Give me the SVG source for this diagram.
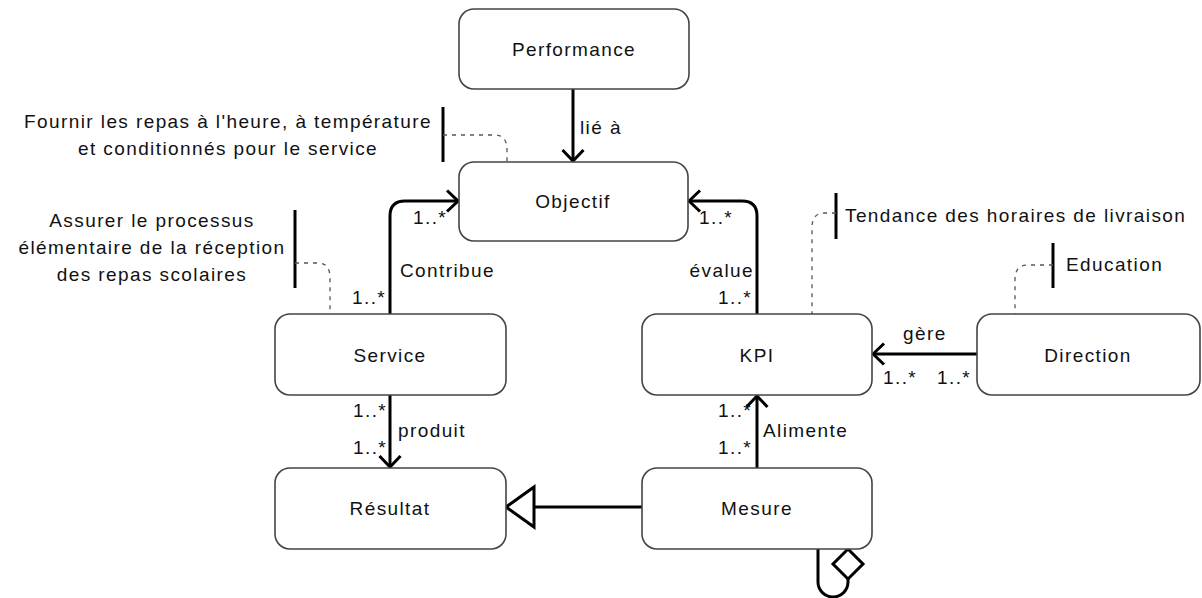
<svg xmlns="http://www.w3.org/2000/svg" width="1202" height="598" viewBox="0 0 1202 598">
<style>
.node rect{fill:#fff;stroke:#444;stroke-width:1.6}
.node text{font-family:"Liberation Sans",Arial,sans-serif;font-size:19px;letter-spacing:1.4px;fill:#111;text-anchor:middle;dominant-baseline:central}
.lbl{font-family:"Liberation Sans",Arial,sans-serif;font-size:19px;letter-spacing:1.4px;fill:#111;dominant-baseline:central}
.note{font-family:"Liberation Sans",Arial,sans-serif;font-size:19px;letter-spacing:1.4px;fill:#111;dominant-baseline:central}
.edge{fill:none;stroke:#000;stroke-width:3}
.dash{fill:none;stroke:#555;stroke-width:1.3;stroke-dasharray:4,5}
.bar{stroke:#000;stroke-width:3}
</style>
<defs>
<marker id="open" markerUnits="userSpaceOnUse" viewBox="0 0 14 24" markerWidth="14" markerHeight="24" refX="12.5" refY="12" orient="auto">
<path d="M1.5,1.5 L12.5,12 L1.5,22.5" fill="none" stroke="#000" stroke-width="3"/>
</marker>
</defs>
<g id="connectors">
<path class="edge" d="M573,89 V161" marker-end="url(#open)"/>
<path class="edge" d="M390,314 V216 Q390,201 405,201 H458" marker-end="url(#open)"/>
<path class="edge" d="M757,314 V216 Q757,201 742,201 H689" marker-end="url(#open)"/>
<path class="edge" d="M390,395 V467" marker-end="url(#open)"/>
<path class="edge" d="M757,468 V396" marker-end="url(#open)"/>
<path class="edge" d="M977,354 H873" marker-end="url(#open)"/>
<path class="edge" d="M642,507 H534"/>
<polygon class="edge" points="506,507 534,487 534,527" style="fill:#fff"/>
<path class="edge" d="M818,549 V582 A15,15 0 0 0 848,582 V579"/>
<polygon class="edge" points="848,549 863,564 848,579 833,564" style="fill:#fff"/>
<text class="lbl" x="580" y="127">lié à</text>
<text class="lbl" x="400" y="270">Contribue</text>
<text class="lbl" x="413" y="217">1..*</text>
<text class="lbl" x="352" y="297">1..*</text>
<text class="lbl" x="699" y="217">1..*</text>
<text class="lbl" x="754" y="270" text-anchor="end">évalue</text>
<text class="lbl" x="718" y="297">1..*</text>
<text class="lbl" x="353" y="410">1..*</text>
<text class="lbl" x="398" y="430">produit</text>
<text class="lbl" x="353" y="447">1..*</text>
<text class="lbl" x="718" y="410">1..*</text>
<text class="lbl" x="763" y="430">Alimente</text>
<text class="lbl" x="718" y="447">1..*</text>
<text class="lbl" x="903" y="333">gère</text>
<text class="lbl" x="883" y="377">1..*</text>
<text class="lbl" x="937" y="377">1..*</text>
</g>
<g id="notes">
<text class="note" x="228" y="121" text-anchor="middle">Fournir les repas à l'heure, à température</text>
<text class="note" x="228" y="148" text-anchor="middle">et conditionnés pour le service</text>
<line class="bar" x1="443" y1="107" x2="443" y2="162"/>
<path class="dash" d="M443,135 H495 Q507,135 507,150 V162"/>
<text class="note" x="152" y="220" text-anchor="middle">Assurer le processus</text>
<text class="note" x="152" y="247" text-anchor="middle">élémentaire de la réception</text>
<text class="note" x="152" y="274" text-anchor="middle">des repas scolaires</text>
<line class="bar" x1="295" y1="210" x2="295" y2="288"/>
<path class="dash" d="M295,263 H318 Q330,263 330,278 V314"/>
<text class="note" x="845" y="215">Tendance des horaires de livraison</text>
<line class="bar" x1="836" y1="193" x2="836" y2="239"/>
<path class="dash" d="M836,213 H824 Q812,213 812,228 V314"/>
<text class="note" x="1066" y="264">Education</text>
<line class="bar" x1="1053" y1="243" x2="1053" y2="288"/>
<path class="dash" d="M1053,265 H1027 Q1015,265 1015,280 V314"/>
</g>
<g id="performance" class="node"><rect x="459" y="9" width="230" height="80" rx="15"/><text x="574" y="49">Performance</text></g>
<g id="objectif" class="node"><rect x="459" y="162" width="229" height="79" rx="15"/><text x="573" y="201">Objectif</text></g>
<g id="service" class="node"><rect x="275" y="314" width="231" height="81" rx="15"/><text x="390" y="355">Service</text></g>
<g id="kpi" class="node"><rect x="642" y="314" width="230" height="81" rx="15"/><text x="757" y="355">KPI</text></g>
<g id="direction" class="node"><rect x="977" y="314" width="223" height="81" rx="15"/><text x="1088" y="355">Direction</text></g>
<g id="resultat" class="node"><rect x="275" y="468" width="231" height="81" rx="15"/><text x="390" y="508">Résultat</text></g>
<g id="mesure" class="node"><rect x="642" y="468" width="230" height="81" rx="15"/><text x="757" y="508">Mesure</text></g>
</svg>
